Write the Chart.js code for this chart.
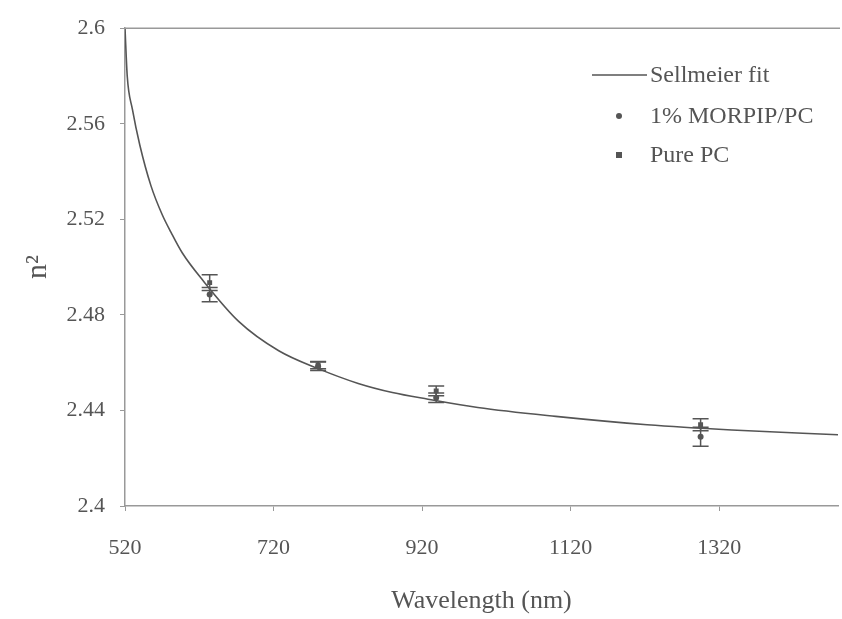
<!DOCTYPE html>
<html>
<head>
<meta charset="utf-8">
<script src="https://cdn.jsdelivr.net/npm/chart.js@4.4.0/dist/chart.umd.min.js"></script>
<style>
  html, body { margin: 0; padding: 0; background: #fff; overflow: hidden; }
</style>
</head>
<body>
<canvas id="chart" width="842" height="619"></canvas>
<script>
// Sellmeier fit curve
const fitWavelengths = [520, 523, 530, 540, 555, 570, 582, 597, 626, 673, 727, 780, 834, 880, 928, 995, 1100, 1223, 1337, 1480];
const fitValues = [2.600, 2.580, 2.566, 2.551, 2.534, 2.522, 2.5145, 2.506, 2.494, 2.4773, 2.4650, 2.4575, 2.4513, 2.4475, 2.4447, 2.4412, 2.4375, 2.4340, 2.4318, 2.4298];

// measured points
const wavelengths = [634, 780, 939, 1295];
const morpipValues = [2.4885, 2.4585, 2.4453, 2.4290];
const morpipErrors = [0.0030, 0.0018, 0.0020, 0.0040];
const purePcValues = [2.4935, 2.4590, 2.4482, 2.4340];
const purePcErrors = [0.0033, 0.0015, 0.0020, 0.0025];

const xTickValues = [520, 720, 920, 1120, 1320];
const yTickValues = [2.4, 2.44, 2.48, 2.52, 2.56, 2.6];

const seriesLabels = ['Sellmeier fit', '1% MORPIP/PC', 'Pure PC'];

const serif = '"Liberation Serif", "Times New Roman", serif';
const ink = '#555';
const axisColor = '#999';

const toPoints = (xs, ys) => xs.map((x, i) => ({ x: x, y: ys[i] }));

// error bars + top frame line + legend
const extras = {
    id: 'extras',
    beforeDatasetsDraw(chart) {
        const ctx = chart.ctx;
        const xs = chart.scales.x, ys = chart.scales.y;
        ctx.save();
        ctx.strokeStyle = ink;
        ctx.lineWidth = 1.5;
        chart.data.datasets.forEach(ds => {
            if (!ds.errors) return;
            ds.data.forEach((p, i) => {
                const px = xs.getPixelForValue(p.x);
                const top = ys.getPixelForValue(p.y + ds.errors[i]);
                const bot = ys.getPixelForValue(p.y - ds.errors[i]);
                ctx.beginPath();
                ctx.moveTo(px, top); ctx.lineTo(px, bot);
                ctx.moveTo(px - 8, top); ctx.lineTo(px + 8, top);
                ctx.moveTo(px - 8, bot); ctx.lineTo(px + 8, bot);
                ctx.stroke();
            });
        });
        ctx.restore();
    },
    afterDraw(chart) {
        const ctx = chart.ctx;
        const a = chart.chartArea;
        ctx.save();
        ctx.strokeStyle = axisColor;
        ctx.lineWidth = 1.5;
        ctx.beginPath();
        ctx.moveTo(a.left, a.top);
        ctx.lineTo(a.right + 2, a.top);
        ctx.stroke();

        // legend
        const textX = 650, lineX0 = 592, lineX1 = 647, keyX = 619;
        const rows = [75, 116, 155];
        ctx.font = '24px ' + serif;
        ctx.textBaseline = 'middle';
        chart.data.datasets.forEach((ds, i) => {
            const y = rows[i];
            ctx.strokeStyle = ink;
            ctx.fillStyle = ink;
            if (ds.type === 'line') {
                ctx.lineWidth = 1.5;
                ctx.beginPath();
                ctx.moveTo(lineX0, y); ctx.lineTo(lineX1, y);
                ctx.stroke();
            } else if (ds.pointStyle === 'rect') {
                ctx.fillRect(keyX - 3, y - 3, 6, 6);
            } else {
                ctx.beginPath();
                ctx.arc(keyX, y, 3, 0, Math.PI * 2);
                ctx.fill();
            }
            ctx.fillText(ds.label, textX, y + 1);
        });
        ctx.restore();
    }
};

new Chart(document.getElementById('chart').getContext('2d'), {
    type: 'scatter',
    data: {
        datasets: [
            {
                type: 'line',
                label: seriesLabels[0],
                data: toPoints(fitWavelengths, fitValues),
                borderColor: ink,
                borderWidth: 1.6,
                pointRadius: 0,
                cubicInterpolationMode: 'monotone',
                fill: false
            },
            {
                label: seriesLabels[1],
                data: toPoints(wavelengths, morpipValues),
                errors: morpipErrors,
                pointStyle: 'circle',
                pointRadius: 3,
                backgroundColor: ink,
                borderColor: ink,
                borderWidth: 0
            },
            {
                label: seriesLabels[2],
                data: toPoints(wavelengths, purePcValues),
                errors: purePcErrors,
                pointStyle: 'rect',
                pointRadius: 3.5,
                backgroundColor: ink,
                borderColor: ink,
                borderWidth: 0
            }
        ]
    },
    options: {
        responsive: false,
        animation: false,
        layout: { padding: { top: 25, right: 1, left: 0, bottom: 0 } },
        plugins: {
            legend: { display: false },
            tooltip: { enabled: false }
        },
        scales: {
            x: {
                type: 'linear',
                min: 520,
                max: 1480,
                afterFit: s => { s.height = 113; },
                afterBuildTicks: s => { s.ticks = xTickValues.map(v => ({ value: v })); },
                grid: { drawOnChartArea: false, drawTicks: true, tickLength: 5, color: axisColor },
                border: { color: axisColor, width: 1.5 },
                ticks: {
                    color: ink,
                    font: { family: serif, size: 22 },
                    padding: 24,
                    maxRotation: 0,
                    callback: v => String(v)
                },
                title: {
                    display: true,
                    text: 'Wavelength (nm)',
                    color: ink,
                    font: { family: serif, size: 26 },
                    padding: { top: 0, bottom: 2 }
                }
            },
            y: {
                min: 2.4,
                max: 2.6,
                afterFit: s => { s.width = 125; },
                afterBuildTicks: s => { s.ticks = yTickValues.map(v => ({ value: v })); },
                grid: { drawOnChartArea: false, drawTicks: true, tickLength: 5, color: axisColor },
                border: { color: axisColor, width: 1.5 },
                ticks: {
                    color: ink,
                    font: { family: serif, size: 22 },
                    padding: 15,
                    callback: v => String(parseFloat(v.toFixed(2)))
                },
                title: {
                    display: true,
                    text: 'n²',
                    color: ink,
                    font: { family: serif, size: 30 },
                    padding: { top: 20, bottom: 0 }
                }
            }
        }
    },
    plugins: [extras]
});
</script>
</body>
</html>
